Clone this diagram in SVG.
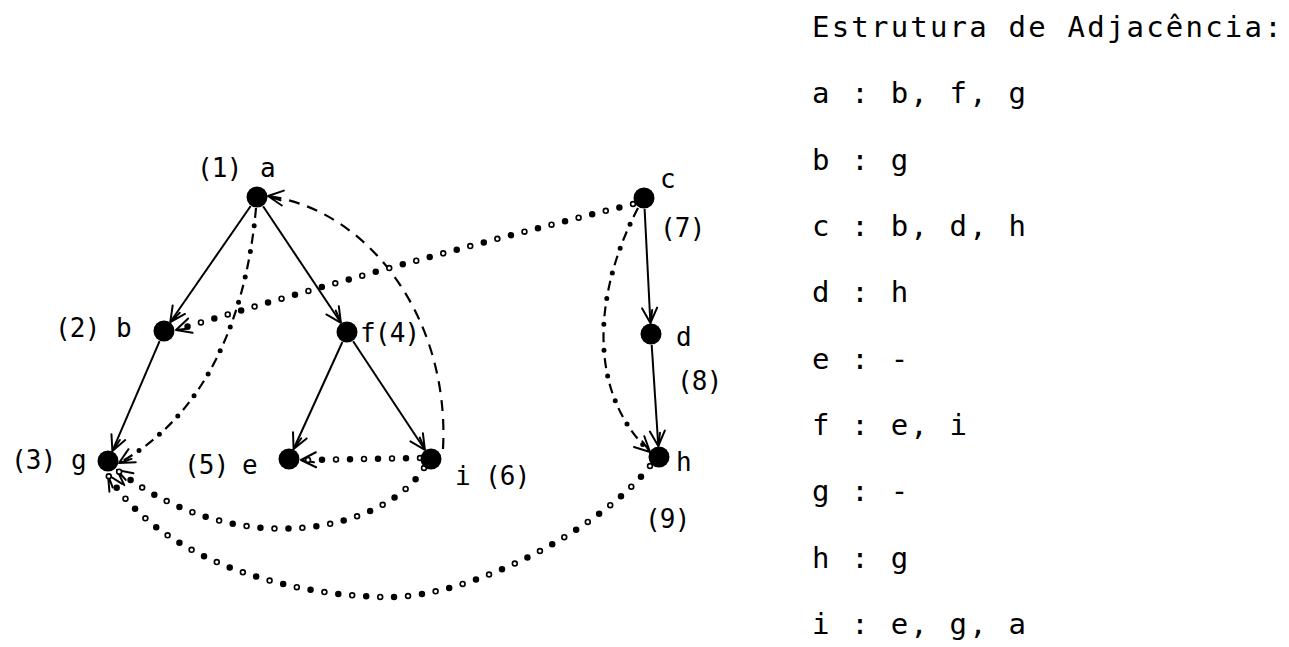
<svg xmlns="http://www.w3.org/2000/svg" width="1289" height="647" viewBox="0 0 1289 647">
<style>
.lbl{font-family:"DejaVu Sans Mono","Liberation Mono",monospace;font-size:26px;fill:#000;letter-spacing:-0.8px}
.col{font-family:"DejaVu Sans Mono","Liberation Mono",monospace;font-size:29px;fill:#000;letter-spacing:2.2px}
.node{fill:#000}
.solid{fill:none;stroke:#000;stroke-width:2;marker-end:url(#arr)}
.dash{fill:none;stroke:#000;stroke-width:2.2;stroke-dasharray:11 8;marker-end:url(#arr)}
.dd{fill:none;stroke:#000;stroke-width:2.2;stroke-dasharray:10 16;marker-end:url(#arr)}
.ddot{fill:none;stroke:#000;stroke-width:5;stroke-linecap:round;stroke-dasharray:0 26;stroke-dashoffset:8}
.dot{fill:none;stroke:#000;stroke-width:6.5;stroke-linecap:round;stroke-dasharray:0 14;marker-end:url(#arr)}
.hole{fill:none;stroke:#fff;stroke-width:3.2;stroke-linecap:round;stroke-dasharray:0 28}
</style>
<defs>
<marker id="arr" viewBox="-17 -10 19 20" refX="0" refY="0" markerWidth="19" markerHeight="20" markerUnits="userSpaceOnUse" orient="auto">
<path d="M-15,-7.5 L0,0 L-15,7.5 M-13,-2.5 L0,0" fill="none" stroke="#000" stroke-width="2" stroke-dasharray="none" stroke-linecap="round" stroke-linejoin="round"/>
</marker>
</defs>
<rect width="1289" height="647" fill="#fff"/>
<g id="connectors">
<path class="solid" d="M250.7,206 L170.3,322"/>
<path class="solid" d="M263.1,206.2 L340.9,322.8"/>
<path class="solid" d="M159.6,341.1 L112.4,450.9"/>
<path class="solid" d="M342.4,342 L293.6,449"/>
<path class="solid" d="M353.1,341.2 L424.9,449.8"/>
<path class="solid" d="M644.6,209 L650.4,323"/>
<path class="solid" d="M651.7,345 L658.3,446"/>
<path class="dash" d="M443,449 C450,320 370,210 268,196"/>
<path class="dd" d="M256,208 C248,300 215,410 119,463"/>
<path class="ddot" d="M256,208 C248,300 215,410 119,463"/>
<path class="dd" d="M638,208 C595,290 585,390 650,452"/>
<path class="ddot" d="M638,208 C595,290 585,390 650,452"/>
<path class="dot" d="M633,204 Q400,262 176,330"/>
<path class="hole" d="M633,204 Q400,262 176,330"/>
<path class="dot" d="M420,458 L301,460"/>
<path class="hole" d="M420,458 L301,460"/>
<path class="dot" d="M424,468 C385,530 240,565 117,470"/>
<path class="hole" d="M424,468 C385,530 240,565 117,470"/>
<path class="dot" d="M650,466 C600,530 470,597 390,597 C290,597 160,560 108,475"/>
<path class="hole" d="M650,466 C600,530 470,597 390,597 C290,597 160,560 108,475"/>
</g>
<g id="node-a"><circle class="node" cx="257" cy="197" r="10.5"/><text class="lbl" x="197" y="177">(1) <tspan x="260">a</tspan></text></g>
<g id="node-b"><circle class="node" cx="164" cy="331" r="10.5"/><text class="lbl" x="55" y="337">(2) <tspan x="116">b</tspan></text></g>
<g id="node-g"><circle class="node" cx="108" cy="461" r="10.5"/><text class="lbl" x="11" y="469">(3) <tspan x="71">g</tspan></text></g>
<g id="node-f"><circle class="node" cx="347" cy="332" r="10.5"/><text class="lbl" x="360" y="342">f(4)</text></g>
<g id="node-e"><circle class="node" cx="289" cy="459" r="10.5"/><text class="lbl" x="184" y="474">(5) <tspan x="242">e</tspan></text></g>
<g id="node-i"><circle class="node" cx="431" cy="459" r="10.5"/><text class="lbl" x="455" y="485">i <tspan x="485">(6)</tspan></text></g>
<g id="node-c"><circle class="node" cx="644" cy="198" r="10.5"/><text class="lbl" x="660" y="188">c</text><text class="lbl" x="660" y="237">(7)</text></g>
<g id="node-d"><circle class="node" cx="651" cy="334" r="10.5"/><text class="lbl" x="676" y="346">d</text><text class="lbl" x="677" y="390">(8)</text></g>
<g id="node-h"><circle class="node" cx="659" cy="457" r="10.5"/><text class="lbl" x="676" y="471">h</text><text class="lbl" x="645" y="528">(9)</text></g>
<g id="adjacency">
<text class="col" x="812" y="37">Estrutura de Adjacência:</text>
<text class="col" x="812" y="103">a : b, f, g</text>
<text class="col" x="812" y="170">b : g</text>
<text class="col" x="812" y="236">c : b, d, h</text>
<text class="col" x="812" y="302">d : h</text>
<text class="col" x="812" y="369">e : -</text>
<text class="col" x="812" y="435">f : e, i</text>
<text class="col" x="812" y="501">g : -</text>
<text class="col" x="812" y="568">h : g</text>
<text class="col" x="812" y="634">i : e, g, a</text>
</g>
</svg>
